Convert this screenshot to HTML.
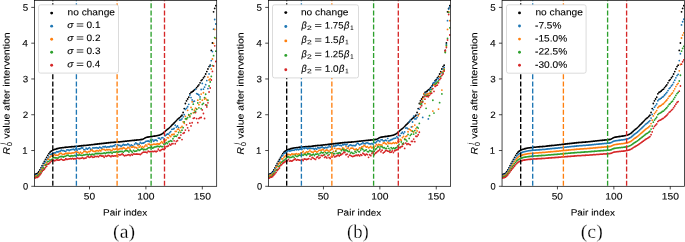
<!DOCTYPE html>
<html><head><meta charset="utf-8"><title>R0 after intervention</title>
<style>html,body{margin:0;padding:0;background:#fff;width:685px;height:242px;overflow:hidden}
svg{display:block;will-change:transform;font-family:"Liberation Sans",sans-serif}</style></head>
<body>
<svg width="685" height="242" viewBox="0 0 685 242">
<clipPath id="c0"><rect x="34.4" y="0.35" width="182.3" height="185.95"/></clipPath>
<g clip-path="url(#c0)">
<g stroke-linecap="round" fill="none" stroke-width="1.8">
<path stroke="#000" d="M34.23 174.56h0M35.36 174.23h0M36.48 173.9h0M37.61 173.09h0M38.74 171.76h0M39.87 169.98h0M41 167.8h0M42.12 165.63h0M43.25 163.39h0M44.38 161.33h0M45.51 159.42h0M46.64 157.32h0M47.76 155.31h0M48.89 153.6h0M50.02 152.23h0M51.15 151.19h0M52.28 150.54h0M53.4 149.95h0M54.53 149.47h0M55.66 149.04h0M56.79 148.76h0M57.92 148.48h0M59.04 148.21h0M60.17 147.97h0M61.3 147.82h0M62.43 147.68h0M63.56 147.53h0M64.68 147.39h0M65.81 147.26h0M66.94 147.16h0M68.07 147.06h0M69.2 146.96h0M70.32 146.86h0M71.45 146.77h0M72.58 146.67h0M73.71 146.57h0M74.84 146.48h0M75.96 146.38h0M77.09 146.28h0M78.22 146.13h0M79.35 145.99h0M80.48 145.86h0M81.6 145.75h0M82.73 145.63h0M83.86 145.52h0M84.99 145.4h0M86.12 145.29h0M87.24 145.17h0M88.37 145.06h0M89.5 144.94h0M90.63 144.81h0M91.76 144.68h0M92.88 144.54h0M94.01 144.41h0M95.14 144.27h0M96.27 144.14h0M97.4 144h0M98.52 143.87h0M99.65 143.73h0M100.78 143.6h0M101.91 143.48h0M103.04 143.35h0M104.16 143.23h0M105.29 143.11h0M106.42 142.98h0M107.55 142.86h0M108.68 142.73h0M109.8 142.61h0M110.93 142.52h0M112.06 142.43h0M113.19 142.34h0M114.32 142.25h0M115.44 142.16h0M116.57 142.07h0M117.7 141.98h0M118.83 141.89h0M119.96 141.79h0M121.08 141.67h0M122.21 141.55h0M123.34 141.42h0M124.47 141.3h0M125.6 141.17h0M126.72 141.05h0M127.85 140.93h0M128.98 140.8h0M130.11 140.68h0M131.24 140.57h0M132.36 140.45h0M133.49 140.34h0M134.62 140.23h0M135.75 140.12h0M136.88 140h0M138 139.89h0M139.13 139.78h0M140.26 139.65h0M141.39 139.5h0M142.52 139.35h0M143.64 138.82h0M144.77 138.08h0M145.9 137.53h0M147.03 137.2h0M148.16 137.02h0M149.28 136.83h0M150.41 136.66h0M151.54 136.49h0M152.67 136.33h0M153.8 136.17h0M154.92 136.01h0M156.05 135.85h0M157.18 135.6h0M158.31 135.32h0M159.44 135.04h0M160.56 134.71h0M161.69 134.08h0M162.82 133.46h0M163.95 132.48h0M165.08 131.39h0M166.2 130.32h0M167.33 129.46h0M168.46 128.59h0M169.59 127.59h0M170.72 126.41h0M171.84 125.26h0M172.97 124.13h0M174.1 122.99h0M175.23 121.82h0M176.36 120.65h0M177.48 119.45h0M178.61 118.44h0M179.74 117.59h0M180.87 116.47h0M182 115.26h0M183.12 112.5h0M184.25 108.6h0M185.38 103.5h0M186.51 100.8h0M187.64 99h0M188.76 97.2h0M189.89 93.8h0M191.02 92.4h0M192.15 91.8h0M193.28 91h0M194.4 89.8h0M195.53 89.2h0M196.66 87.6h0M197.79 86.2h0M198.92 84.8h0M200.04 82.8h0M201.17 80.6h0M202.3 79.6h0M203.43 77.8h0M204.56 76.4h0M205.68 74h0M206.81 71.6h0M207.94 69h0M209.07 66.6h0M210.2 65.2h0M211.32 50.4h0M212.45 43h0M213.58 11.8h0M214.71 8.4h0M215.84 5.7h0"/>
<path stroke="#1f77b4" d="M34.23 175.14h0M35.36 175.62h0M36.48 175h0M37.61 174.41h0M38.74 173.61h0M39.87 171.08h0M41 169.32h0M42.12 167.25h0M43.25 165.66h0M44.38 163.14h0M45.51 161.95h0M46.64 159.75h0M47.76 158.67h0M48.89 156.95h0M50.02 154.33h0M51.15 154.39h0M52.28 153.38h0M53.4 153.2h0M54.53 152.99h0M55.66 152.73h0M56.79 151.7h0M57.92 152h0M59.04 151.51h0M60.17 151.15h0M61.3 150.25h0M62.43 150.62h0M63.56 150.71h0M64.68 151.15h0M65.81 151.34h0M66.94 149.9h0M68.07 149.82h0M69.2 150.49h0M70.32 149.93h0M71.45 149.58h0M72.58 149.45h0M73.71 149.24h0M74.84 150.02h0M75.96 148.69h0M77.09 150.32h0M78.22 148.93h0M79.35 148.98h0M80.48 148.7h0M81.6 147.96h0M82.73 148.01h0M83.86 149.6h0M84.99 149.78h0M86.12 148.17h0M87.24 149.17h0M88.37 148.33h0M89.5 147.63h0M90.63 149.16h0M91.76 149.49h0M92.88 147.84h0M94.01 147.78h0M95.14 147.8h0M96.27 147.53h0M97.4 147.94h0M98.52 148.19h0M99.65 147.22h0M100.78 147.68h0M101.91 148.16h0M103.04 146.55h0M104.16 146.92h0M105.29 146.5h0M106.42 147.36h0M107.55 146.86h0M108.68 146.84h0M109.8 146.74h0M110.93 146.05h0M112.06 146.68h0M113.19 145.87h0M114.32 145.77h0M115.44 144.59h0M116.57 146.6h0M117.7 144.85h0M118.83 145.46h0M119.96 145.45h0M121.08 146.42h0M122.21 145.46h0M123.34 144.51h0M124.47 144.98h0M125.6 144.85h0M126.72 144.97h0M127.85 143.83h0M128.98 144.67h0M130.11 146.1h0M131.24 144.94h0M132.36 145.56h0M133.49 146.33h0M134.62 144.24h0M135.75 142.83h0M136.88 143.74h0M138 144.43h0M139.13 144.21h0M140.26 142.51h0M141.39 143.29h0M142.52 143.2h0M143.64 142.98h0M144.77 142.31h0M145.9 141.28h0M147.03 141.09h0M148.16 140.98h0M149.28 141.56h0M150.41 140.19h0M151.54 141.04h0M152.67 139.69h0M153.8 141.27h0M154.92 140.19h0M156.05 139.98h0M157.18 140.78h0M158.31 138.04h0M159.44 138.06h0M160.56 139.37h0M161.69 137.84h0M162.82 137.58h0M163.95 139.16h0M165.08 135.84h0M166.2 134.93h0M167.33 134.01h0M168.46 134.16h0M169.59 132.68h0M170.72 131.56h0M171.84 129.3h0M172.97 129.2h0M174.1 128.51h0M175.23 125.19h0M176.36 127.04h0M177.48 125.99h0M178.61 127.53h0M179.74 120.19h0M180.87 119.94h0M182 118.86h0M183.12 116.87h0M184.25 114.67h0M185.38 109.41h0M186.51 108.29h0M187.64 106.75h0M188.76 104.37h0M189.89 95.08h0M191.02 97.57h0M192.15 99.9h0M193.28 101.62h0M194.4 101.17h0M195.53 89.28h0M196.66 93.57h0M197.79 94.17h0M198.92 94.99h0M200.04 96.9h0M201.17 89.48h0M202.3 83.42h0M203.43 89.13h0M204.56 87.04h0M205.68 84.69h0M206.81 80.54h0M207.94 88.54h0M209.07 73.9h0M210.2 66h0M211.32 60.7h0M212.45 51.6h0M213.58 29.2h0M214.71 19.5h0M215.84 24h0"/>
<path stroke="#ff7f0e" d="M34.23 176.55h0M35.36 176.07h0M36.48 175.87h0M37.61 175.48h0M38.74 173.96h0M39.87 171.89h0M41 170.79h0M42.12 168.93h0M43.25 167.49h0M44.38 165.11h0M45.51 164.34h0M46.64 162.5h0M47.76 159.36h0M48.89 159.2h0M50.02 157.07h0M51.15 155.97h0M52.28 156.09h0M53.4 155.59h0M54.53 154.45h0M55.66 155.31h0M56.79 155.19h0M57.92 155.37h0M59.04 154.25h0M60.17 153.23h0M61.3 153.32h0M62.43 154.43h0M63.56 154.31h0M64.68 153.98h0M65.81 153.26h0M66.94 153.52h0M68.07 153.23h0M69.2 153.17h0M70.32 153.37h0M71.45 153.04h0M72.58 152.81h0M73.71 152.84h0M74.84 152.44h0M75.96 151.56h0M77.09 152.21h0M78.22 152.45h0M79.35 153.29h0M80.48 152.06h0M81.6 153.32h0M82.73 152.82h0M83.86 151.43h0M84.99 151.36h0M86.12 151.85h0M87.24 152.61h0M88.37 151.65h0M89.5 151.69h0M90.63 150.84h0M91.76 149.89h0M92.88 151.01h0M94.01 151.42h0M95.14 151.5h0M96.27 150.76h0M97.4 150.66h0M98.52 151.08h0M99.65 150.24h0M100.78 150.94h0M101.91 149.59h0M103.04 149.45h0M104.16 149.43h0M105.29 150.3h0M106.42 149.61h0M107.55 149.75h0M108.68 149.68h0M109.8 149.63h0M110.93 150.28h0M112.06 150.33h0M113.19 148.9h0M114.32 149.42h0M115.44 149.14h0M116.57 148.32h0M117.7 149.9h0M118.83 149.24h0M119.96 148.67h0M121.08 148.5h0M122.21 148.75h0M123.34 147.74h0M124.47 148.17h0M125.6 149.07h0M126.72 148.76h0M127.85 147.52h0M128.98 147.75h0M130.11 149.18h0M131.24 146.98h0M132.36 147.2h0M133.49 146.56h0M134.62 147.58h0M135.75 147.46h0M136.88 147.99h0M138 145.38h0M139.13 147.14h0M140.26 145.79h0M141.39 147.34h0M142.52 146.64h0M143.64 147.62h0M144.77 146.19h0M145.9 144.83h0M147.03 146.06h0M148.16 144.08h0M149.28 144.23h0M150.41 145.06h0M151.54 144.61h0M152.67 144.61h0M153.8 144.07h0M154.92 144.25h0M156.05 144.36h0M157.18 143.76h0M158.31 143.99h0M159.44 144.02h0M160.56 142.9h0M161.69 141.71h0M162.82 143.01h0M163.95 141h0M165.08 140.67h0M166.2 139.86h0M167.33 137.66h0M168.46 137.96h0M169.59 135.58h0M170.72 136.55h0M171.84 134.74h0M172.97 134.48h0M174.1 134.15h0M175.23 131.46h0M176.36 131.29h0M177.48 129.3h0M178.61 129.19h0M179.74 130.67h0M180.87 127.56h0M182 126.29h0M183.12 121.84h0M184.25 123.25h0M185.38 116.46h0M186.51 119.43h0M187.64 110.29h0M188.76 115.24h0M189.89 115.73h0M191.02 107.4h0M192.15 101.86h0M193.28 112.86h0M194.4 110.22h0M195.53 108.15h0M196.66 108.9h0M197.79 100.2h0M198.92 104.7h0M200.04 102.28h0M201.17 94.09h0M202.3 100.17h0M203.43 92.76h0M204.56 99.08h0M205.68 98.34h0M206.81 99.9h0M207.94 77.06h0M209.07 80h0M210.2 78.8h0M211.32 68.9h0M212.45 59h0M213.58 43.3h0M214.71 29.4h0M215.84 38.3h0"/>
<path stroke="#2ca02c" d="M34.23 177.55h0M35.36 177.18h0M36.48 177.03h0M37.61 175.91h0M38.74 174.86h0M39.87 173.99h0M41 172.45h0M42.12 170.39h0M43.25 167.92h0M44.38 168.34h0M45.51 165.18h0M46.64 164.41h0M47.76 161.68h0M48.89 161.46h0M50.02 160.04h0M51.15 159.82h0M52.28 159.11h0M53.4 157.67h0M54.53 157.57h0M55.66 157.91h0M56.79 157.83h0M57.92 158.13h0M59.04 157.05h0M60.17 156.66h0M61.3 156.51h0M62.43 156.57h0M63.56 157.02h0M64.68 156.37h0M65.81 156.1h0M66.94 155.39h0M68.07 155.04h0M69.2 156.07h0M70.32 156.27h0M71.45 155.74h0M72.58 155.94h0M73.71 155.89h0M74.84 155.47h0M75.96 155.89h0M77.09 154.95h0M78.22 155.26h0M79.35 154.93h0M80.48 155.12h0M81.6 155.33h0M82.73 155.28h0M83.86 154.83h0M84.99 154.86h0M86.12 154.42h0M87.24 154.41h0M88.37 154.98h0M89.5 154.07h0M90.63 154.78h0M91.76 154.4h0M92.88 154.13h0M94.01 154.95h0M95.14 153.61h0M96.27 153.51h0M97.4 153.52h0M98.52 153.52h0M99.65 153.42h0M100.78 153.7h0M101.91 153.33h0M103.04 153.34h0M104.16 152.97h0M105.29 153.62h0M106.42 152.73h0M107.55 152.54h0M108.68 152.49h0M109.8 152.64h0M110.93 152.12h0M112.06 153.36h0M113.19 152.11h0M114.32 152.14h0M115.44 152.1h0M116.57 151.75h0M117.7 152.2h0M118.83 151.92h0M119.96 151.43h0M121.08 151.52h0M122.21 151.43h0M123.34 152.36h0M124.47 151.05h0M125.6 150.66h0M126.72 150.63h0M127.85 150.99h0M128.98 152.07h0M130.11 150.47h0M131.24 151.06h0M132.36 152.25h0M133.49 150.36h0M134.62 151.37h0M135.75 151.2h0M136.88 150.78h0M138 149.45h0M139.13 150.42h0M140.26 149.86h0M141.39 149.01h0M142.52 148.95h0M143.64 149.76h0M144.77 149.34h0M145.9 149.62h0M147.03 148.94h0M148.16 147.91h0M149.28 147.59h0M150.41 147.63h0M151.54 146.99h0M152.67 148.18h0M153.8 147.48h0M154.92 146.8h0M156.05 146.8h0M157.18 146.27h0M158.31 146.45h0M159.44 146.77h0M160.56 146.12h0M161.69 146.61h0M162.82 146.58h0M163.95 144.24h0M165.08 143.92h0M166.2 142.66h0M167.33 143.49h0M168.46 141.74h0M169.59 141.29h0M170.72 140.63h0M171.84 141.27h0M172.97 138.77h0M174.1 136.49h0M175.23 136.14h0M176.36 136.34h0M177.48 134.83h0M178.61 132.49h0M179.74 138.1h0M180.87 132.34h0M182 130.13h0M183.12 127.66h0M184.25 121.9h0M185.38 118.85h0M186.51 118.76h0M187.64 117.53h0M188.76 114.65h0M189.89 116.79h0M191.02 113.69h0M192.15 109.47h0M193.28 104.13h0M194.4 112.4h0M195.53 111.48h0M196.66 109.35h0M197.79 102.88h0M198.92 107.8h0M200.04 99.04h0M201.17 108.76h0M202.3 104.44h0M203.43 103.33h0M204.56 97.58h0M205.68 94.24h0M206.81 105.22h0M207.94 100.26h0M209.07 86h0M210.2 82h0M211.32 76.4h0M212.45 65.6h0M213.58 55.7h0M214.71 37.7h0M215.84 51.2h0"/>
<path stroke="#d62728" d="M34.23 177.89h0M35.36 177.92h0M36.48 177.43h0M37.61 177.32h0M38.74 176.42h0M39.87 174.88h0M41 173.61h0M42.12 171.6h0M43.25 170.2h0M44.38 169.29h0M45.51 167.49h0M46.64 166.21h0M47.76 164.19h0M48.89 163.76h0M50.02 162.71h0M51.15 161.32h0M52.28 160.45h0M53.4 160.25h0M54.53 160.75h0M55.66 160.45h0M56.79 159.59h0M57.92 160.14h0M59.04 160.22h0M60.17 159.53h0M61.3 159.22h0M62.43 159.86h0M63.56 160.17h0M64.68 159.97h0M65.81 158.77h0M66.94 159.41h0M68.07 159.08h0M69.2 158.91h0M70.32 158.61h0M71.45 158.9h0M72.58 158.43h0M73.71 158.98h0M74.84 158.67h0M75.96 158.91h0M77.09 157.82h0M78.22 158.31h0M79.35 158.52h0M80.48 158.3h0M81.6 158.16h0M82.73 157.56h0M83.86 158.61h0M84.99 158.22h0M86.12 157.89h0M87.24 156.34h0M88.37 156.96h0M89.5 157.36h0M90.63 156.9h0M91.76 156.25h0M92.88 157.3h0M94.01 157.21h0M95.14 156.3h0M96.27 156.6h0M97.4 156.36h0M98.52 156.82h0M99.65 155.53h0M100.78 155.57h0M101.91 156.18h0M103.04 155.98h0M104.16 157.37h0M105.29 155.92h0M106.42 156.28h0M107.55 155.75h0M108.68 155.43h0M109.8 155.94h0M110.93 156.68h0M112.06 155.58h0M113.19 156.13h0M114.32 155.83h0M115.44 155.96h0M116.57 155.56h0M117.7 156.46h0M118.83 154.56h0M119.96 155.1h0M121.08 154.62h0M122.21 153.95h0M123.34 154.91h0M124.47 155.8h0M125.6 155.3h0M126.72 155.37h0M127.85 154.9h0M128.98 154.59h0M130.11 155.62h0M131.24 154.29h0M132.36 155.08h0M133.49 153.97h0M134.62 154.09h0M135.75 154.15h0M136.88 154h0M138 154.11h0M139.13 154.12h0M140.26 154.56h0M141.39 153.7h0M142.52 152.53h0M143.64 152.21h0M144.77 152.12h0M145.9 152.13h0M147.03 152.64h0M148.16 151.13h0M149.28 151.7h0M150.41 151.58h0M151.54 151.65h0M152.67 151.46h0M153.8 151.56h0M154.92 151.21h0M156.05 151.73h0M157.18 151.12h0M158.31 149.27h0M159.44 150.55h0M160.56 150.48h0M161.69 149.6h0M162.82 149.05h0M163.95 149.5h0M165.08 148.23h0M166.2 146.59h0M167.33 146.42h0M168.46 145.83h0M169.59 144.26h0M170.72 145.03h0M171.84 143.85h0M172.97 143.66h0M174.1 140.84h0M175.23 143.75h0M176.36 141.39h0M177.48 140.64h0M178.61 137.97h0M179.74 137.56h0M180.87 135.11h0M182 139.59h0M183.12 133.34h0M184.25 132.73h0M185.38 130.03h0M186.51 124.86h0M187.64 127.87h0M188.76 130.5h0M189.89 123.14h0M191.02 125.97h0M192.15 122.75h0M193.28 118.3h0M194.4 117.93h0M195.53 112.59h0M196.66 118.56h0M197.79 122.63h0M198.92 118.53h0M200.04 117.54h0M201.17 117.52h0M202.3 109.93h0M203.43 113.5h0M204.56 118.48h0M205.68 104.94h0M206.81 106.9h0M207.94 102.87h0M209.07 92h0M210.2 88h0M211.32 80h0M212.45 71.4h0M213.58 66h0M214.71 45.8h0M215.84 61.5h0"/>
</g>
<line x1="52.8" y1="186.3" x2="52.8" y2="0.35" stroke="#000" stroke-width="1.34" stroke-dasharray="5 2.1" stroke-dashoffset="6.6"/>
<line x1="76.4" y1="186.3" x2="76.4" y2="0.35" stroke="#1f77b4" stroke-width="1.34" stroke-dasharray="5 2.1" stroke-dashoffset="6.6"/>
<line x1="117.1" y1="186.3" x2="117.1" y2="0.35" stroke="#ff7f0e" stroke-width="1.34" stroke-dasharray="5 2.1" stroke-dashoffset="6.6"/>
<line x1="151.1" y1="186.3" x2="151.1" y2="0.35" stroke="#2ca02c" stroke-width="1.34" stroke-dasharray="5 2.1" stroke-dashoffset="6.6"/>
<line x1="164.5" y1="186.3" x2="164.5" y2="0.35" stroke="#d62728" stroke-width="1.34" stroke-dasharray="5 2.1" stroke-dashoffset="6.6"/>
</g>
<rect x="34.4" y="0.35" width="182.3" height="185.95" fill="none" stroke="#000" stroke-width="0.71"/>
<path d="M31.27 186.3H34.4M31.27 150.52H34.4M31.27 114.74H34.4M31.27 78.96H34.4M31.27 43.18H34.4M31.27 7.4H34.4M89.5 186.3V189.43M145.9 186.3V189.43M202.3 186.3V189.43" stroke="#000" stroke-width="0.71" fill="none"/>
<rect x="38.55" y="4.8" width="79.95" height="68.3" rx="2" fill="#fff" stroke="#ccc" stroke-width="0.71"/>
<g stroke-linecap="round" stroke-width="2.9"><path stroke="#000" d="M51.65 13.1h0"/><path stroke="#1f77b4" d="M51.65 26.15h0"/><path stroke="#ff7f0e" d="M51.65 39.2h0"/><path stroke="#2ca02c" d="M51.65 52.25h0"/><path stroke="#d62728" d="M51.65 65.3h0"/></g>
<clipPath id="c1"><rect x="268.35" y="0.35" width="182.3" height="185.95"/></clipPath>
<g clip-path="url(#c1)">
<g stroke-linecap="round" fill="none" stroke-width="1.8">
<path stroke="#000" d="M268.18 174.56h0M269.31 174.23h0M270.43 173.9h0M271.56 173.09h0M272.69 171.76h0M273.82 169.98h0M274.95 167.8h0M276.07 165.63h0M277.2 163.39h0M278.33 161.33h0M279.46 159.42h0M280.59 157.32h0M281.71 155.31h0M282.84 153.6h0M283.97 152.23h0M285.1 151.19h0M286.23 150.54h0M287.35 149.95h0M288.48 149.47h0M289.61 149.04h0M290.74 148.76h0M291.87 148.48h0M292.99 148.21h0M294.12 147.97h0M295.25 147.82h0M296.38 147.68h0M297.51 147.53h0M298.63 147.39h0M299.76 147.26h0M300.89 147.16h0M302.02 147.06h0M303.15 146.96h0M304.27 146.86h0M305.4 146.77h0M306.53 146.67h0M307.66 146.57h0M308.79 146.48h0M309.91 146.38h0M311.04 146.28h0M312.17 146.13h0M313.3 145.99h0M314.43 145.86h0M315.55 145.75h0M316.68 145.63h0M317.81 145.52h0M318.94 145.4h0M320.07 145.29h0M321.19 145.17h0M322.32 145.06h0M323.45 144.94h0M324.58 144.81h0M325.71 144.68h0M326.83 144.54h0M327.96 144.41h0M329.09 144.27h0M330.22 144.14h0M331.35 144h0M332.47 143.87h0M333.6 143.73h0M334.73 143.6h0M335.86 143.48h0M336.99 143.35h0M338.11 143.23h0M339.24 143.11h0M340.37 142.98h0M341.5 142.86h0M342.63 142.73h0M343.75 142.61h0M344.88 142.52h0M346.01 142.43h0M347.14 142.34h0M348.27 142.25h0M349.39 142.16h0M350.52 142.07h0M351.65 141.98h0M352.78 141.89h0M353.91 141.79h0M355.03 141.67h0M356.16 141.55h0M357.29 141.42h0M358.42 141.3h0M359.55 141.17h0M360.67 141.05h0M361.8 140.93h0M362.93 140.8h0M364.06 140.68h0M365.19 140.57h0M366.31 140.45h0M367.44 140.34h0M368.57 140.23h0M369.7 140.12h0M370.83 140h0M371.95 139.89h0M373.08 139.78h0M374.21 139.65h0M375.34 139.5h0M376.47 139.35h0M377.59 138.82h0M378.72 138.08h0M379.85 137.53h0M380.98 137.2h0M382.11 137.02h0M383.23 136.83h0M384.36 136.66h0M385.49 136.49h0M386.62 136.33h0M387.75 136.17h0M388.87 136.01h0M390 135.85h0M391.13 135.6h0M392.26 135.32h0M393.39 135.04h0M394.51 134.71h0M395.64 134.08h0M396.77 133.46h0M397.9 132.48h0M399.03 131.39h0M400.15 130.32h0M401.28 129.46h0M402.41 128.59h0M403.54 127.59h0M404.67 126.41h0M405.79 125.26h0M406.92 124.13h0M408.05 122.99h0M409.18 121.82h0M410.31 120.65h0M411.43 119.45h0M412.56 118.44h0M413.69 117.59h0M414.82 116.47h0M415.95 115.26h0M417.07 112.5h0M418.2 108.6h0M419.33 103.5h0M420.46 100.8h0M421.59 99h0M422.71 97.2h0M423.84 93.8h0M424.97 92.4h0M426.1 91.8h0M427.23 91h0M428.35 89.8h0M429.48 89.2h0M430.61 87.6h0M431.74 86.2h0M432.87 84.8h0M433.99 82.8h0M435.12 80.6h0M436.25 79.6h0M437.38 77.8h0M438.51 76.4h0M439.63 74h0M440.76 71.6h0M441.89 69h0M443.02 66.6h0M444.15 65.2h0M445.27 50.4h0M446.4 43h0M447.53 11.8h0M448.66 8.4h0M449.79 5.7h0"/>
<path stroke="#1f77b4" d="M268.18 175.86h0M269.31 174.74h0M270.43 174.89h0M271.56 173.53h0M272.69 172.62h0M273.82 171.19h0M274.95 168.61h0M276.07 167.24h0M277.2 165.19h0M278.33 163.63h0M279.46 160.88h0M280.59 158.52h0M281.71 156.21h0M282.84 155.34h0M283.97 153.53h0M285.1 152.98h0M286.23 152.39h0M287.35 151.34h0M288.48 150.68h0M289.61 151.01h0M290.74 150.85h0M291.87 150.45h0M292.99 150.09h0M294.12 150.33h0M295.25 149.24h0M296.38 149.82h0M297.51 149.25h0M298.63 149.79h0M299.76 149.1h0M300.89 149h0M302.02 149.32h0M303.15 147.82h0M304.27 148.52h0M305.4 147.73h0M306.53 148.17h0M307.66 148.87h0M308.79 148.46h0M309.91 148.01h0M311.04 148.44h0M312.17 148.42h0M313.3 148.52h0M314.43 149.23h0M315.55 148.35h0M316.68 149.21h0M317.81 147.63h0M318.94 147.99h0M320.07 147.86h0M321.19 147.25h0M322.32 146.91h0M323.45 147.89h0M324.58 147.99h0M325.71 147.45h0M326.83 147.86h0M327.96 147.25h0M329.09 145.69h0M330.22 146.92h0M331.35 145.83h0M332.47 146.92h0M333.6 145.9h0M334.73 146.07h0M335.86 145.77h0M336.99 145.27h0M338.11 144.53h0M339.24 145.32h0M340.37 145.39h0M341.5 145.81h0M342.63 144.61h0M343.75 144.79h0M344.88 144.22h0M346.01 145h0M347.14 144.07h0M348.27 146.35h0M349.39 145.41h0M350.52 144.79h0M351.65 145.39h0M352.78 145.65h0M353.91 145.34h0M355.03 145.83h0M356.16 144.73h0M357.29 143.18h0M358.42 143.77h0M359.55 144.86h0M360.67 144.33h0M361.8 143.67h0M362.93 142.62h0M364.06 143.69h0M365.19 143.73h0M366.31 142.79h0M367.44 142.9h0M368.57 143.51h0M369.7 143.83h0M370.83 143.91h0M371.95 143.36h0M373.08 144.25h0M374.21 142.37h0M375.34 142.88h0M376.47 141.85h0M377.59 140.63h0M378.72 140.48h0M379.85 141.62h0M380.98 139.92h0M382.11 139.67h0M383.23 140.8h0M384.36 140.87h0M385.49 140.11h0M386.62 140.72h0M387.75 138.4h0M388.87 141.01h0M390 140.43h0M391.13 139.74h0M392.26 139.38h0M393.39 138.7h0M394.51 138.35h0M395.64 138.05h0M396.77 136.56h0M397.9 137.96h0M399.03 135.52h0M400.15 135.69h0M401.28 133.37h0M402.41 132.27h0M403.54 133.6h0M404.67 131.97h0M405.79 128.04h0M406.92 127.8h0M408.05 128.84h0M409.18 122.09h0M410.31 120.16h0M411.43 126.89h0M412.56 121.99h0M413.69 116.16h0M414.82 118.9h0M415.95 118.96h0M417.07 117.39h0M418.2 114.68h0M419.33 109.07h0M420.46 102.83h0M421.59 102.41h0M422.71 117.46h0M423.84 94.01h0M424.97 93.08h0M426.1 94.73h0M427.23 93.3h0M428.35 118.97h0M429.48 90.29h0M430.61 89.08h0M431.74 86.43h0M432.87 83.34h0M433.99 82.74h0M435.12 82.01h0M436.25 80.75h0M437.38 78.62h0M438.51 78.86h0M439.63 77.11h0M440.76 73.25h0M441.89 72.09h0M443.02 69h0M444.15 67.5h0M445.27 51.5h0M446.4 44.3h0M447.53 20.7h0M448.66 9.1h0M449.79 7h0"/>
<path stroke="#ff7f0e" d="M268.18 176.59h0M269.31 175.59h0M270.43 175.17h0M271.56 174.97h0M272.69 173.86h0M273.82 172.83h0M274.95 170.04h0M276.07 167.44h0M277.2 166.4h0M278.33 164.26h0M279.46 162.95h0M280.59 162.07h0M281.71 158.87h0M282.84 158.85h0M283.97 157.22h0M285.1 156.03h0M286.23 155.12h0M287.35 154.66h0M288.48 154.33h0M289.61 154.71h0M290.74 155h0M291.87 153.87h0M292.99 154.14h0M294.12 154.27h0M295.25 154.18h0M296.38 153.59h0M297.51 154.32h0M298.63 153.93h0M299.76 154.08h0M300.89 152.94h0M302.02 152.72h0M303.15 151.52h0M304.27 153.48h0M305.4 152.99h0M306.53 151.83h0M307.66 152.08h0M308.79 151.53h0M309.91 150.06h0M311.04 151.59h0M312.17 152.2h0M313.3 152.29h0M314.43 151.18h0M315.55 151.21h0M316.68 152.04h0M317.81 151.61h0M318.94 150.35h0M320.07 150.14h0M321.19 150.39h0M322.32 149.5h0M323.45 149.76h0M324.58 151.42h0M325.71 150.39h0M326.83 149.87h0M327.96 150.61h0M329.09 151.57h0M330.22 150.14h0M331.35 149.41h0M332.47 148.92h0M333.6 151.41h0M334.73 148.13h0M335.86 150.42h0M336.99 148.87h0M338.11 148.62h0M339.24 148.65h0M340.37 149.23h0M341.5 149.74h0M342.63 147.96h0M343.75 148.38h0M344.88 149.73h0M346.01 146.61h0M347.14 148.35h0M348.27 147.89h0M349.39 149.78h0M350.52 148.29h0M351.65 148.07h0M352.78 148.1h0M353.91 149.15h0M355.03 149.78h0M356.16 148.81h0M357.29 149.97h0M358.42 149.45h0M359.55 147.92h0M360.67 148.1h0M361.8 146.93h0M362.93 146.66h0M364.06 145.31h0M365.19 146.11h0M366.31 147.19h0M367.44 146.54h0M368.57 147.85h0M369.7 147.46h0M370.83 146.44h0M371.95 147.89h0M373.08 147.15h0M374.21 147.74h0M375.34 146.17h0M376.47 144.45h0M377.59 145.77h0M378.72 144.4h0M379.85 144.92h0M380.98 144.81h0M382.11 145.09h0M383.23 143.18h0M384.36 142.53h0M385.49 143.69h0M386.62 144.05h0M387.75 142.47h0M388.87 143.5h0M390 143.21h0M391.13 143.62h0M392.26 143.35h0M393.39 142.66h0M394.51 143.37h0M395.64 142.68h0M396.77 143.26h0M397.9 141.49h0M399.03 141.51h0M400.15 139.51h0M401.28 140.21h0M402.41 137.57h0M403.54 136.3h0M404.67 138.56h0M405.79 136.54h0M406.92 135.8h0M408.05 131.75h0M409.18 129.19h0M410.31 129.78h0M411.43 130.92h0M412.56 126.59h0M413.69 131.98h0M414.82 125.11h0M415.95 128.63h0M417.07 130.95h0M418.2 115.87h0M419.33 113.81h0M420.46 103.08h0M421.59 101.72h0M422.71 98.77h0M423.84 93.63h0M424.97 103.55h0M426.1 94.67h0M427.23 94.06h0M428.35 93.69h0M429.48 93.17h0M430.61 91.75h0M431.74 89.68h0M432.87 111.07h0M433.99 84.98h0M435.12 84.28h0M436.25 83.05h0M437.38 82.64h0M438.51 109.12h0M439.63 76.69h0M440.76 72.58h0M441.89 90.03h0M443.02 71.5h0M444.15 69h0M445.27 52h0M446.4 46.2h0M447.53 29.4h0M448.66 11.6h0M449.79 20.7h0"/>
<path stroke="#2ca02c" d="M268.18 176.94h0M269.31 177.22h0M270.43 176.99h0M271.56 176.3h0M272.69 174.98h0M273.82 173.57h0M274.95 171.93h0M276.07 170.14h0M277.2 169.41h0M278.33 166.54h0M279.46 165.98h0M280.59 163.94h0M281.71 162.26h0M282.84 161.23h0M283.97 160.36h0M285.1 159.3h0M286.23 158.15h0M287.35 157.05h0M288.48 156.75h0M289.61 157.52h0M290.74 157.44h0M291.87 157.16h0M292.99 156.1h0M294.12 157.52h0M295.25 155.29h0M296.38 156.31h0M297.51 156.43h0M298.63 155.6h0M299.76 155.11h0M300.89 155.54h0M302.02 154.97h0M303.15 155.32h0M304.27 154.38h0M305.4 154.39h0M306.53 155.24h0M307.66 153.73h0M308.79 153.95h0M309.91 153.95h0M311.04 155.2h0M312.17 154.93h0M313.3 154.17h0M314.43 155.52h0M315.55 154.13h0M316.68 154.03h0M317.81 153.82h0M318.94 155.2h0M320.07 153.37h0M321.19 152.03h0M322.32 152.94h0M323.45 152.65h0M324.58 154.76h0M325.71 152.55h0M326.83 153.53h0M327.96 152.6h0M329.09 154.57h0M330.22 152.53h0M331.35 153.2h0M332.47 152.57h0M333.6 153.93h0M334.73 153.63h0M335.86 151.31h0M336.99 153.37h0M338.11 153.19h0M339.24 152.69h0M340.37 153.15h0M341.5 150.71h0M342.63 149.06h0M343.75 149.98h0M344.88 151.03h0M346.01 149.87h0M347.14 150.76h0M348.27 151.56h0M349.39 151.47h0M350.52 153.11h0M351.65 152.42h0M352.78 153.33h0M353.91 153.35h0M355.03 151.44h0M356.16 152.44h0M357.29 150.04h0M358.42 151.58h0M359.55 151.83h0M360.67 150.04h0M361.8 148.51h0M362.93 149.38h0M364.06 151.06h0M365.19 150.33h0M366.31 149.78h0M367.44 151.57h0M368.57 151.74h0M369.7 150.32h0M370.83 150.87h0M371.95 151.73h0M373.08 151.07h0M374.21 151.14h0M375.34 149.51h0M376.47 148.72h0M377.59 147.18h0M378.72 146.6h0M379.85 148.12h0M380.98 146.42h0M382.11 146.8h0M383.23 147.74h0M384.36 147.56h0M385.49 148.67h0M386.62 148.37h0M387.75 146.2h0M388.87 148.37h0M390 150.25h0M391.13 147.67h0M392.26 148.81h0M393.39 147.95h0M394.51 148.64h0M395.64 148h0M396.77 147.38h0M397.9 145.95h0M399.03 144.52h0M400.15 147.19h0M401.28 141.97h0M402.41 144.02h0M403.54 143.23h0M404.67 139.45h0M405.79 139.67h0M406.92 141.09h0M408.05 134.42h0M409.18 138.38h0M410.31 135.41h0M411.43 134.22h0M412.56 131.23h0M413.69 134.08h0M414.82 130.53h0M415.95 132.95h0M417.07 127.18h0M418.2 128.12h0M419.33 123.39h0M420.46 104.28h0M421.59 103.94h0M422.71 101.14h0M423.84 96.78h0M424.97 95.46h0M426.1 108.28h0M427.23 95.63h0M428.35 95.4h0M429.48 115.66h0M430.61 91.67h0M431.74 89.35h0M432.87 100.26h0M433.99 113.04h0M435.12 84.28h0M436.25 83.48h0M437.38 82.03h0M438.51 80.82h0M439.63 102.66h0M440.76 76.45h0M441.89 93.92h0M443.02 73h0M444.15 70h0M445.27 52.5h0M446.4 45.5h0M447.53 38.3h0M448.66 12.4h0M449.79 27.8h0"/>
<path stroke="#d62728" d="M268.18 178.21h0M269.31 178.12h0M270.43 177.3h0M271.56 177.2h0M272.69 176.44h0M273.82 174.99h0M274.95 173.84h0M276.07 172.44h0M277.2 170.51h0M278.33 169.42h0M279.46 168.02h0M280.59 165.51h0M281.71 164.54h0M282.84 163.25h0M283.97 162.52h0M285.1 161.77h0M286.23 160.66h0M287.35 160.92h0M288.48 159.42h0M289.61 161.11h0M290.74 160.75h0M291.87 161.16h0M292.99 160.33h0M294.12 159.54h0M295.25 158.87h0M296.38 160.21h0M297.51 159.69h0M298.63 159.89h0M299.76 160.17h0M300.89 160.46h0M302.02 159.51h0M303.15 160.5h0M304.27 159.01h0M305.4 159.11h0M306.53 159.5h0M307.66 159.2h0M308.79 158.65h0M309.91 156.16h0M311.04 159.24h0M312.17 157.44h0M313.3 158.18h0M314.43 158.8h0M315.55 159.4h0M316.68 157.5h0M317.81 156.74h0M318.94 158.29h0M320.07 157.42h0M321.19 155.41h0M322.32 155.82h0M323.45 155.08h0M324.58 157.45h0M325.71 156.58h0M326.83 157.89h0M327.96 155.49h0M329.09 157.57h0M330.22 158.42h0M331.35 156.75h0M332.47 156.85h0M333.6 155.29h0M334.73 156.88h0M335.86 156.4h0M336.99 155.74h0M338.11 154.89h0M339.24 155.99h0M340.37 155.01h0M341.5 154.49h0M342.63 153.72h0M343.75 152.23h0M344.88 152.58h0M346.01 154.77h0M347.14 154.07h0M348.27 156.87h0M349.39 155.06h0M350.52 155.4h0M351.65 156.06h0M352.78 156.61h0M353.91 156.2h0M355.03 155.63h0M356.16 155.24h0M357.29 155.52h0M358.42 154.91h0M359.55 155.9h0M360.67 154.54h0M361.8 155.24h0M362.93 153.18h0M364.06 154.27h0M365.19 155.25h0M366.31 154.07h0M367.44 154.66h0M368.57 157.3h0M369.7 154.76h0M370.83 155.66h0M371.95 153.58h0M373.08 152.36h0M374.21 154.63h0M375.34 153.24h0M376.47 152.49h0M377.59 151.46h0M378.72 150.53h0M379.85 149.69h0M380.98 151.74h0M382.11 150.16h0M383.23 152.9h0M384.36 152.05h0M385.49 150.9h0M386.62 150.33h0M387.75 151.05h0M388.87 151.31h0M390 152.26h0M391.13 152.18h0M392.26 150.88h0M393.39 152.61h0M394.51 150.88h0M395.64 150.26h0M396.77 149.93h0M397.9 149.43h0M399.03 147.8h0M400.15 147.67h0M401.28 146.65h0M402.41 146.25h0M403.54 144.06h0M404.67 148.41h0M405.79 143.03h0M406.92 144.42h0M408.05 143.69h0M409.18 144.29h0M410.31 144.86h0M411.43 141.47h0M412.56 141.39h0M413.69 139.09h0M414.82 141.72h0M415.95 136.24h0M417.07 136.31h0M418.2 134.75h0M419.33 132.24h0M420.46 107.35h0M421.59 105.71h0M422.71 102.04h0M423.84 96.5h0M424.97 99.16h0M426.1 96.39h0M427.23 96.43h0M428.35 96.87h0M429.48 95.35h0M430.61 93.8h0M431.74 93.04h0M432.87 88.54h0M433.99 91.38h0M435.12 86.46h0M436.25 85.58h0M437.38 85.06h0M438.51 82.8h0M439.63 79.56h0M440.76 78.27h0M441.89 75.45h0M443.02 74h0M444.15 71h0M445.27 50.5h0M446.4 47.6h0M447.53 40h0M448.66 14.5h0M449.79 35h0"/>
</g>
<line x1="286.7" y1="186.3" x2="286.7" y2="0.35" stroke="#000" stroke-width="1.34" stroke-dasharray="5 2.1" stroke-dashoffset="6.6"/>
<line x1="301.4" y1="186.3" x2="301.4" y2="0.35" stroke="#1f77b4" stroke-width="1.34" stroke-dasharray="5 2.1" stroke-dashoffset="6.6"/>
<line x1="331.85" y1="186.3" x2="331.85" y2="0.35" stroke="#ff7f0e" stroke-width="1.34" stroke-dasharray="5 2.1" stroke-dashoffset="6.6"/>
<line x1="373.6" y1="186.3" x2="373.6" y2="0.35" stroke="#2ca02c" stroke-width="1.34" stroke-dasharray="5 2.1" stroke-dashoffset="6.6"/>
<line x1="398.3" y1="186.3" x2="398.3" y2="0.35" stroke="#d62728" stroke-width="1.34" stroke-dasharray="5 2.1" stroke-dashoffset="6.6"/>
</g>
<rect x="268.35" y="0.35" width="182.3" height="185.95" fill="none" stroke="#000" stroke-width="0.71"/>
<path d="M265.22 186.3H268.35M265.22 150.52H268.35M265.22 114.74H268.35M265.22 78.96H268.35M265.22 43.18H268.35M265.22 7.4H268.35M323.45 186.3V189.43M379.85 186.3V189.43M436.25 186.3V189.43" stroke="#000" stroke-width="0.71" fill="none"/>
<rect x="272.5" y="4.8" width="86" height="73.1" rx="2" fill="#fff" stroke="#ccc" stroke-width="0.71"/>
<g stroke-linecap="round" stroke-width="2.9"><path stroke="#000" d="M285.8 12.6h0"/><path stroke="#1f77b4" d="M285.8 26.5h0"/><path stroke="#ff7f0e" d="M285.8 40.9h0"/><path stroke="#2ca02c" d="M285.8 55.4h0"/><path stroke="#d62728" d="M285.8 69.8h0"/></g>
<clipPath id="c2"><rect x="502.05" y="0.35" width="182.3" height="185.95"/></clipPath>
<g clip-path="url(#c2)">
<g stroke-linecap="round" fill="none" stroke-width="1.8">
<path stroke="#000" d="M502.18 174.56h0M503.31 174.23h0M504.43 173.9h0M505.56 173.09h0M506.69 171.76h0M507.82 169.98h0M508.95 167.8h0M510.07 165.63h0M511.2 163.39h0M512.33 161.33h0M513.46 159.42h0M514.59 157.32h0M515.71 155.31h0M516.84 153.6h0M517.97 152.23h0M519.1 151.19h0M520.23 150.54h0M521.35 149.95h0M522.48 149.47h0M523.61 149.04h0M524.74 148.76h0M525.87 148.48h0M526.99 148.21h0M528.12 147.97h0M529.25 147.82h0M530.38 147.68h0M531.51 147.53h0M532.63 147.39h0M533.76 147.26h0M534.89 147.16h0M536.02 147.06h0M537.15 146.96h0M538.27 146.86h0M539.4 146.77h0M540.53 146.67h0M541.66 146.57h0M542.79 146.48h0M543.91 146.38h0M545.04 146.28h0M546.17 146.13h0M547.3 145.99h0M548.43 145.86h0M549.55 145.75h0M550.68 145.63h0M551.81 145.52h0M552.94 145.4h0M554.07 145.29h0M555.19 145.17h0M556.32 145.06h0M557.45 144.94h0M558.58 144.81h0M559.71 144.68h0M560.83 144.54h0M561.96 144.41h0M563.09 144.27h0M564.22 144.14h0M565.35 144h0M566.47 143.87h0M567.6 143.73h0M568.73 143.6h0M569.86 143.48h0M570.99 143.35h0M572.11 143.23h0M573.24 143.11h0M574.37 142.98h0M575.5 142.86h0M576.63 142.73h0M577.75 142.61h0M578.88 142.52h0M580.01 142.43h0M581.14 142.34h0M582.27 142.25h0M583.39 142.16h0M584.52 142.07h0M585.65 141.98h0M586.78 141.89h0M587.91 141.79h0M589.03 141.67h0M590.16 141.55h0M591.29 141.42h0M592.42 141.3h0M593.55 141.17h0M594.67 141.05h0M595.8 140.93h0M596.93 140.8h0M598.06 140.68h0M599.19 140.57h0M600.31 140.45h0M601.44 140.34h0M602.57 140.23h0M603.7 140.12h0M604.83 140h0M605.95 139.89h0M607.08 139.78h0M608.21 139.65h0M609.34 139.5h0M610.47 139.35h0M611.59 138.82h0M612.72 138.08h0M613.85 137.53h0M614.98 137.2h0M616.11 137.02h0M617.23 136.83h0M618.36 136.66h0M619.49 136.49h0M620.62 136.33h0M621.75 136.17h0M622.87 136.01h0M624 135.85h0M625.13 135.6h0M626.26 135.32h0M627.39 135.04h0M628.51 134.71h0M629.64 134.08h0M630.77 133.46h0M631.9 132.48h0M633.03 131.39h0M634.15 130.32h0M635.28 129.46h0M636.41 128.59h0M637.54 127.59h0M638.67 126.41h0M639.79 125.26h0M640.92 124.13h0M642.05 122.99h0M643.18 121.82h0M644.31 120.65h0M645.43 119.45h0M646.56 118.44h0M647.69 117.59h0M648.82 116.47h0M649.95 115.26h0M651.07 112.5h0M652.2 108.6h0M653.33 103.5h0M654.46 100.8h0M655.59 99h0M656.71 97.2h0M657.84 93.8h0M658.97 92.4h0M660.1 91.8h0M661.23 91h0M662.35 89.8h0M663.48 89.2h0M664.61 87.6h0M665.74 86.2h0M666.87 84.8h0M667.99 82.8h0M669.12 80.6h0M670.25 79.6h0M671.38 77.8h0M672.51 76.4h0M673.63 74h0M674.76 71.6h0M675.89 69h0M677.02 66.6h0M678.15 65.2h0M679.27 50.4h0M680.4 43h0M681.53 11.8h0M682.66 8.4h0M683.79 5.7h0"/>
<path stroke="#1f77b4" d="M502.18 175.44h0M503.31 175.13h0M504.43 174.83h0M505.56 174.08h0M506.69 172.85h0M507.82 171.2h0M508.95 169.19h0M510.07 167.18h0M511.2 165.11h0M512.33 163.2h0M513.46 161.44h0M514.59 159.5h0M515.71 157.63h0M516.84 156.05h0M517.97 154.78h0M519.1 153.82h0M520.23 153.22h0M521.35 152.68h0M522.48 152.23h0M523.61 151.83h0M524.74 151.58h0M525.87 151.32h0M526.99 151.07h0M528.12 150.84h0M529.25 150.71h0M530.38 150.57h0M531.51 150.44h0M532.63 150.31h0M533.76 150.19h0M534.89 150.1h0M536.02 150.01h0M537.15 149.91h0M538.27 149.82h0M539.4 149.73h0M540.53 149.64h0M541.66 149.55h0M542.79 149.46h0M543.91 149.37h0M545.04 149.28h0M546.17 149.15h0M547.3 149.02h0M548.43 148.89h0M549.55 148.79h0M550.68 148.68h0M551.81 148.58h0M552.94 148.47h0M554.07 148.36h0M555.19 148.26h0M556.32 148.15h0M557.45 148.04h0M558.58 147.92h0M559.71 147.8h0M560.83 147.67h0M561.96 147.55h0M563.09 147.42h0M564.22 147.3h0M565.35 147.17h0M566.47 147.05h0M567.6 146.92h0M568.73 146.81h0M569.86 146.69h0M570.99 146.58h0M572.11 146.46h0M573.24 146.35h0M574.37 146.23h0M575.5 146.12h0M576.63 146h0M577.75 145.89h0M578.88 145.8h0M580.01 145.72h0M581.14 145.63h0M582.27 145.55h0M583.39 145.47h0M584.52 145.38h0M585.65 145.3h0M586.78 145.22h0M587.91 145.13h0M589.03 145.02h0M590.16 144.9h0M591.29 144.79h0M592.42 144.67h0M593.55 144.56h0M594.67 144.44h0M595.8 144.33h0M596.93 144.21h0M598.06 144.1h0M599.19 144h0M600.31 143.89h0M601.44 143.79h0M602.57 143.68h0M603.7 143.58h0M604.83 143.47h0M605.95 143.37h0M607.08 143.27h0M608.21 143.15h0M609.34 143.01h0M610.47 142.87h0M611.59 142.38h0M612.72 141.7h0M613.85 141.19h0M614.98 140.88h0M616.11 140.71h0M617.23 140.54h0M618.36 140.38h0M619.49 140.23h0M620.62 140.08h0M621.75 139.93h0M622.87 139.78h0M624 139.63h0M625.13 139.41h0M626.26 139.15h0M627.39 138.89h0M628.51 138.58h0M629.64 138h0M630.77 137.42h0M631.9 136.52h0M633.03 135.51h0M634.15 134.52h0M635.28 133.72h0M636.41 132.92h0M637.54 131.99h0M638.67 130.9h0M639.79 129.83h0M640.92 128.79h0M642.05 127.74h0M643.18 126.65h0M644.31 125.57h0M645.43 124.46h0M646.56 123.53h0M647.69 122.75h0M648.82 121.7h0M649.95 120.58h0M651.07 118.03h0M652.2 114.43h0M653.33 109.71h0M654.46 107.21h0M655.59 105.55h0M656.71 103.88h0M657.84 100.74h0M658.97 99.44h0M660.1 98.89h0M661.23 98.15h0M662.35 97.04h0M663.48 96.48h0M664.61 95h0M665.74 93.71h0M666.87 92.41h0M667.99 90.56h0M669.12 88.53h0M670.25 87.6h0M671.38 85.94h0M672.51 84.64h0M673.63 82.42h0M674.76 80.2h0M675.89 77.8h0M677.02 75.58h0M678.15 74.28h0M679.27 60.59h0M680.4 53.75h0M681.53 24.89h0M682.66 21.74h0M683.79 19.24h0"/>
<path stroke="#ff7f0e" d="M502.18 176.32h0M503.31 176.04h0M504.43 175.76h0M505.56 175.07h0M506.69 173.94h0M507.82 172.43h0M508.95 170.58h0M510.07 168.73h0M511.2 166.83h0M512.33 165.07h0M513.46 163.45h0M514.59 161.67h0M515.71 159.96h0M516.84 158.5h0M517.97 157.34h0M519.1 156.45h0M520.23 155.91h0M521.35 155.4h0M522.48 154.99h0M523.61 154.63h0M524.74 154.39h0M525.87 154.16h0M526.99 153.92h0M528.12 153.72h0M529.25 153.59h0M530.38 153.47h0M531.51 153.35h0M532.63 153.23h0M533.76 153.12h0M534.89 153.03h0M536.02 152.95h0M537.15 152.86h0M538.27 152.78h0M539.4 152.7h0M540.53 152.61h0M541.66 152.53h0M542.79 152.45h0M543.91 152.37h0M545.04 152.28h0M546.17 152.16h0M547.3 152.04h0M548.43 151.93h0M549.55 151.83h0M550.68 151.73h0M551.81 151.63h0M552.94 151.54h0M554.07 151.44h0M555.19 151.34h0M556.32 151.24h0M557.45 151.14h0M558.58 151.04h0M559.71 150.92h0M560.83 150.81h0M561.96 150.69h0M563.09 150.58h0M564.22 150.46h0M565.35 150.35h0M566.47 150.23h0M567.6 150.12h0M568.73 150.01h0M569.86 149.9h0M570.99 149.8h0M572.11 149.69h0M573.24 149.59h0M574.37 149.48h0M575.5 149.37h0M576.63 149.27h0M577.75 149.16h0M578.88 149.08h0M580.01 149.01h0M581.14 148.93h0M582.27 148.85h0M583.39 148.78h0M584.52 148.7h0M585.65 148.62h0M586.78 148.55h0M587.91 148.47h0M589.03 148.36h0M590.16 148.26h0M591.29 148.15h0M592.42 148.05h0M593.55 147.94h0M594.67 147.84h0M595.8 147.73h0M596.93 147.63h0M598.06 147.52h0M599.19 147.43h0M600.31 147.33h0M601.44 147.23h0M602.57 147.14h0M603.7 147.04h0M604.83 146.95h0M605.95 146.85h0M607.08 146.76h0M608.21 146.65h0M609.34 146.52h0M610.47 146.39h0M611.59 145.94h0M612.72 145.32h0M613.85 144.85h0M614.98 144.56h0M616.11 144.41h0M617.23 144.25h0M618.36 144.1h0M619.49 143.97h0M620.62 143.83h0M621.75 143.69h0M622.87 143.55h0M624 143.42h0M625.13 143.21h0M626.26 142.97h0M627.39 142.73h0M628.51 142.45h0M629.64 141.91h0M630.77 141.38h0M631.9 140.55h0M633.03 139.63h0M634.15 138.72h0M635.28 137.98h0M636.41 137.25h0M637.54 136.4h0M638.67 135.4h0M639.79 134.41h0M640.92 133.45h0M642.05 132.49h0M643.18 131.49h0M644.31 130.49h0M645.43 129.48h0M646.56 128.62h0M647.69 127.9h0M648.82 126.94h0M649.95 125.91h0M651.07 123.57h0M652.2 120.25h0M653.33 115.92h0M654.46 113.62h0M655.59 112.09h0M656.71 110.57h0M657.84 107.67h0M658.97 106.48h0M660.1 105.98h0M661.23 105.3h0M662.35 104.28h0M663.48 103.77h0M664.61 102.41h0M665.74 101.22h0M666.87 100.02h0M667.99 98.33h0M669.12 96.45h0M670.25 95.6h0M671.38 94.08h0M672.51 92.89h0M673.63 90.84h0M674.76 88.81h0M675.89 86.6h0M677.02 84.55h0M678.15 83.37h0M679.27 70.78h0M680.4 64.49h0M681.53 37.98h0M682.66 35.09h0M683.79 32.79h0"/>
<path stroke="#2ca02c" d="M502.18 177.2h0M503.31 176.94h0M504.43 176.69h0M505.56 176.06h0M506.69 175.03h0M507.82 173.65h0M508.95 171.96h0M510.07 170.28h0M511.2 168.55h0M512.33 166.95h0M513.46 165.47h0M514.59 163.84h0M515.71 162.28h0M516.84 160.95h0M517.97 159.9h0M519.1 159.09h0M520.23 158.59h0M521.35 158.13h0M522.48 157.76h0M523.61 157.42h0M524.74 157.21h0M525.87 156.99h0M526.99 156.78h0M528.12 156.59h0M529.25 156.48h0M530.38 156.37h0M531.51 156.26h0M532.63 156.15h0M533.76 156.05h0M534.89 155.97h0M536.02 155.89h0M537.15 155.81h0M538.27 155.74h0M539.4 155.66h0M540.53 155.59h0M541.66 155.51h0M542.79 155.44h0M543.91 155.36h0M545.04 155.28h0M546.17 155.17h0M547.3 155.06h0M548.43 154.96h0M549.55 154.87h0M550.68 154.78h0M551.81 154.69h0M552.94 154.6h0M554.07 154.51h0M555.19 154.42h0M556.32 154.34h0M557.45 154.25h0M558.58 154.15h0M559.71 154.04h0M560.83 153.94h0M561.96 153.83h0M563.09 153.73h0M564.22 153.62h0M565.35 153.52h0M566.47 153.41h0M567.6 153.31h0M568.73 153.21h0M569.86 153.11h0M570.99 153.02h0M572.11 152.92h0M573.24 152.83h0M574.37 152.73h0M575.5 152.63h0M576.63 152.54h0M577.75 152.44h0M578.88 152.37h0M580.01 152.3h0M581.14 152.23h0M582.27 152.16h0M583.39 152.09h0M584.52 152.02h0M585.65 151.95h0M586.78 151.88h0M587.91 151.81h0M589.03 151.71h0M590.16 151.62h0M591.29 151.52h0M592.42 151.42h0M593.55 151.33h0M594.67 151.23h0M595.8 151.13h0M596.93 151.04h0M598.06 150.94h0M599.19 150.86h0M600.31 150.77h0M601.44 150.68h0M602.57 150.59h0M603.7 150.51h0M604.83 150.42h0M605.95 150.33h0M607.08 150.24h0M608.21 150.15h0M609.34 150.03h0M610.47 149.91h0M611.59 149.5h0M612.72 148.93h0M613.85 148.51h0M614.98 148.25h0M616.11 148.1h0M617.23 147.96h0M618.36 147.83h0M619.49 147.7h0M620.62 147.58h0M621.75 147.45h0M622.87 147.33h0M624 147.2h0M625.13 147.01h0M626.26 146.79h0M627.39 146.57h0M628.51 146.32h0M629.64 145.83h0M630.77 145.35h0M631.9 144.59h0M633.03 143.74h0M634.15 142.92h0M635.28 142.25h0M636.41 141.57h0M637.54 140.8h0M638.67 139.89h0M639.79 138.99h0M640.92 138.12h0M642.05 137.24h0M643.18 136.33h0M644.31 135.42h0M645.43 134.49h0M646.56 133.71h0M647.69 133.05h0M648.82 132.18h0M649.95 131.24h0M651.07 129.11h0M652.2 126.08h0M653.33 122.13h0M654.46 120.04h0M655.59 118.64h0M656.71 117.25h0M657.84 114.61h0M658.97 113.53h0M660.1 113.06h0M661.23 112.44h0M662.35 111.51h0M663.48 111.05h0M664.61 109.81h0M665.74 108.72h0M666.87 107.64h0M667.99 106.09h0M669.12 104.38h0M670.25 103.61h0M671.38 102.21h0M672.51 101.13h0M673.63 99.27h0M674.76 97.41h0M675.89 95.39h0M677.02 93.53h0M678.15 92.45h0M679.27 80.98h0M680.4 75.24h0M681.53 51.06h0M682.66 48.43h0M683.79 46.33h0"/>
<path stroke="#d62728" d="M502.18 178.08h0M503.31 177.85h0M504.43 177.62h0M505.56 177.05h0M506.69 176.12h0M507.82 174.87h0M508.95 173.35h0M510.07 171.83h0M511.2 170.27h0M512.33 168.82h0M513.46 167.48h0M514.59 166.02h0M515.71 164.61h0M516.84 163.41h0M517.97 162.45h0M519.1 161.72h0M520.23 161.27h0M521.35 160.85h0M522.48 160.52h0M523.61 160.22h0M524.74 160.02h0M525.87 159.83h0M526.99 159.64h0M528.12 159.47h0M529.25 159.37h0M530.38 159.26h0M531.51 159.16h0M532.63 159.06h0M533.76 158.97h0M534.89 158.9h0M536.02 158.83h0M537.15 158.76h0M538.27 158.69h0M539.4 158.63h0M540.53 158.56h0M541.66 158.49h0M542.79 158.42h0M543.91 158.36h0M545.04 158.28h0M546.17 158.18h0M547.3 158.09h0M548.43 157.99h0M549.55 157.91h0M550.68 157.83h0M551.81 157.75h0M552.94 157.67h0M554.07 157.59h0M555.19 157.51h0M556.32 157.43h0M557.45 157.35h0M558.58 157.26h0M559.71 157.16h0M560.83 157.07h0M561.96 156.97h0M563.09 156.88h0M564.22 156.79h0M565.35 156.69h0M566.47 156.6h0M567.6 156.5h0M568.73 156.41h0M569.86 156.33h0M570.99 156.24h0M572.11 156.15h0M573.24 156.06h0M574.37 155.98h0M575.5 155.89h0M576.63 155.8h0M577.75 155.72h0M578.88 155.65h0M580.01 155.59h0M581.14 155.53h0M582.27 155.46h0M583.39 155.4h0M584.52 155.34h0M585.65 155.27h0M586.78 155.21h0M587.91 155.15h0M589.03 155.06h0M590.16 154.97h0M591.29 154.89h0M592.42 154.8h0M593.55 154.71h0M594.67 154.62h0M595.8 154.54h0M596.93 154.45h0M598.06 154.37h0M599.19 154.29h0M600.31 154.21h0M601.44 154.13h0M602.57 154.05h0M603.7 153.97h0M604.83 153.89h0M605.95 153.81h0M607.08 153.73h0M608.21 153.65h0M609.34 153.54h0M610.47 153.44h0M611.59 153.06h0M612.72 152.55h0M613.85 152.16h0M614.98 151.93h0M616.11 151.8h0M617.23 151.67h0M618.36 151.55h0M619.49 151.44h0M620.62 151.32h0M621.75 151.21h0M622.87 151.1h0M624 150.98h0M625.13 150.81h0M626.26 150.62h0M627.39 150.42h0M628.51 150.19h0M629.64 149.75h0M630.77 149.31h0M631.9 148.63h0M633.03 147.86h0M634.15 147.11h0M635.28 146.51h0M636.41 145.9h0M637.54 145.2h0M638.67 144.38h0M639.79 143.57h0M640.92 142.78h0M642.05 141.98h0M643.18 141.16h0M644.31 140.34h0M645.43 139.5h0M646.56 138.8h0M647.69 138.21h0M648.82 137.42h0M649.95 136.57h0M651.07 134.64h0M652.2 131.91h0M653.33 128.34h0M654.46 126.45h0M655.59 125.19h0M656.71 123.93h0M657.84 121.55h0M658.97 120.57h0M660.1 120.15h0M661.23 119.59h0M662.35 118.75h0M663.48 118.33h0M664.61 117.21h0M665.74 116.23h0M666.87 115.25h0M667.99 113.85h0M669.12 112.31h0M670.25 111.61h0M671.38 110.35h0M672.51 109.37h0M673.63 107.69h0M674.76 106.01h0M675.89 104.19h0M677.02 102.51h0M678.15 101.53h0M679.27 91.17h0M680.4 85.99h0M681.53 64.15h0M682.66 61.77h0M683.79 59.88h0"/>
</g>
<line x1="520.7" y1="186.3" x2="520.7" y2="0.35" stroke="#000" stroke-width="1.34" stroke-dasharray="5 2.1" stroke-dashoffset="6.6"/>
<line x1="532.7" y1="186.3" x2="532.7" y2="0.35" stroke="#1f77b4" stroke-width="1.34" stroke-dasharray="5 2.1" stroke-dashoffset="6.6"/>
<line x1="563.4" y1="186.3" x2="563.4" y2="0.35" stroke="#ff7f0e" stroke-width="1.34" stroke-dasharray="5 2.1" stroke-dashoffset="6.6"/>
<line x1="607.6" y1="186.3" x2="607.6" y2="0.35" stroke="#2ca02c" stroke-width="1.34" stroke-dasharray="5 2.1" stroke-dashoffset="6.6"/>
<line x1="626.6" y1="186.3" x2="626.6" y2="0.35" stroke="#d62728" stroke-width="1.34" stroke-dasharray="5 2.1" stroke-dashoffset="6.6"/>
</g>
<rect x="502.05" y="0.35" width="182.3" height="185.95" fill="none" stroke="#000" stroke-width="0.71"/>
<path d="M498.92 186.3H502.05M498.92 150.52H502.05M498.92 114.74H502.05M498.92 78.96H502.05M498.92 43.18H502.05M498.92 7.4H502.05M557.45 186.3V189.43M613.85 186.3V189.43M670.25 186.3V189.43" stroke="#000" stroke-width="0.71" fill="none"/>
<rect x="506.5" y="4.8" width="79.6" height="68.4" rx="2" fill="#fff" stroke="#ccc" stroke-width="0.71"/>
<g stroke-linecap="round" stroke-width="2.9"><path stroke="#000" d="M519.5 12.9h0"/><path stroke="#1f77b4" d="M519.5 26h0"/><path stroke="#ff7f0e" d="M519.5 39.1h0"/><path stroke="#2ca02c" d="M519.5 52.2h0"/><path stroke="#d62728" d="M519.5 65.3h0"/></g>
<g fill="#000" stroke="#000" stroke-width="0.1">
<text transform="translate(22.95 189.55) rotate(0.05)" font-family="Liberation Sans" font-size="9.3">0</text>
<text transform="translate(22.13 153.77) scale(1.0250 1.0000) rotate(0.05)" font-family="Liberation Sans" font-size="9.3">1</text>
<text transform="translate(22.67 117.99) scale(1.0588 1.0000) rotate(0.05)" font-family="Liberation Sans" font-size="9.3">2</text>
<text transform="translate(22.67 82.21) scale(1.0588 1.0000) rotate(0.05)" font-family="Liberation Sans" font-size="9.3">3</text>
<text transform="translate(22.23 46.43) scale(1.0947 1.0000) rotate(0.05)" font-family="Liberation Sans" font-size="9.3">4</text>
<text transform="translate(22.67 10.65) scale(1.0588 1.0000) rotate(0.05)" font-family="Liberation Sans" font-size="9.3">5</text>
<text transform="translate(83.75 199.45) scale(1.0947 1.0154) rotate(0.05)" font-family="Liberation Sans" font-size="9.3">50</text>
<text transform="translate(137.37 199.45) scale(1.1103 1.0154) rotate(0.05)" font-family="Liberation Sans" font-size="9.3">100</text>
<text transform="translate(193.77 199.45) scale(1.1103 1.0154) rotate(0.05)" font-family="Liberation Sans" font-size="9.3">150</text>
<text transform="translate(103.03 215.60) scale(1.0726 0.9778) rotate(0.05)" font-family="Liberation Sans" font-size="9.3">Pair index</text>
<text transform="translate(113.05 237.86) scale(1.1324 1.0968) rotate(0.05)" font-family="Liberation Serif" font-size="17.5" stroke="#fff" stroke-width="0.2">(a)</text>
<text transform="translate(256.90 189.55) rotate(0.05)" font-family="Liberation Sans" font-size="9.3">0</text>
<text transform="translate(256.08 153.77) scale(1.0250 1.0000) rotate(0.05)" font-family="Liberation Sans" font-size="9.3">1</text>
<text transform="translate(256.62 117.99) scale(1.0588 1.0000) rotate(0.05)" font-family="Liberation Sans" font-size="9.3">2</text>
<text transform="translate(256.62 82.21) scale(1.0588 1.0000) rotate(0.05)" font-family="Liberation Sans" font-size="9.3">3</text>
<text transform="translate(256.18 46.43) scale(1.0947 1.0000) rotate(0.05)" font-family="Liberation Sans" font-size="9.3">4</text>
<text transform="translate(256.62 10.65) scale(1.0588 1.0000) rotate(0.05)" font-family="Liberation Sans" font-size="9.3">5</text>
<text transform="translate(317.70 199.45) scale(1.0947 1.0154) rotate(0.05)" font-family="Liberation Sans" font-size="9.3">50</text>
<text transform="translate(371.32 199.45) scale(1.1103 1.0154) rotate(0.05)" font-family="Liberation Sans" font-size="9.3">100</text>
<text transform="translate(427.72 199.45) scale(1.1103 1.0154) rotate(0.05)" font-family="Liberation Sans" font-size="9.3">150</text>
<text transform="translate(336.98 215.60) scale(1.0726 0.9778) rotate(0.05)" font-family="Liberation Sans" font-size="9.3">Pair index</text>
<text transform="translate(347.00 237.86) scale(1.0720 1.0968) rotate(0.05)" font-family="Liberation Serif" font-size="17.5" stroke="#fff" stroke-width="0.2">(b)</text>
<text transform="translate(490.60 189.55) rotate(0.05)" font-family="Liberation Sans" font-size="9.3">0</text>
<text transform="translate(489.78 153.77) scale(1.0250 1.0000) rotate(0.05)" font-family="Liberation Sans" font-size="9.3">1</text>
<text transform="translate(490.32 117.99) scale(1.0588 1.0000) rotate(0.05)" font-family="Liberation Sans" font-size="9.3">2</text>
<text transform="translate(490.32 82.21) scale(1.0588 1.0000) rotate(0.05)" font-family="Liberation Sans" font-size="9.3">3</text>
<text transform="translate(489.88 46.43) scale(1.0947 1.0000) rotate(0.05)" font-family="Liberation Sans" font-size="9.3">4</text>
<text transform="translate(490.32 10.65) scale(1.0588 1.0000) rotate(0.05)" font-family="Liberation Sans" font-size="9.3">5</text>
<text transform="translate(551.70 199.45) scale(1.0947 1.0154) rotate(0.05)" font-family="Liberation Sans" font-size="9.3">50</text>
<text transform="translate(605.32 199.45) scale(1.1103 1.0154) rotate(0.05)" font-family="Liberation Sans" font-size="9.3">100</text>
<text transform="translate(661.72 199.45) scale(1.1103 1.0154) rotate(0.05)" font-family="Liberation Sans" font-size="9.3">150</text>
<text transform="translate(570.68 215.60) scale(1.0726 0.9778) rotate(0.05)" font-family="Liberation Sans" font-size="9.3">Pair index</text>
<text transform="translate(580.75 237.86) scale(1.1324 1.0968) rotate(0.05)" font-family="Liberation Serif" font-size="17.5" stroke="#fff" stroke-width="0.2">(c)</text>
<text transform="translate(67.50 15.20) scale(1.0941 1.0000) rotate(0.05)" font-family="Liberation Sans" font-size="9.3">no change</text>
<text transform="translate(67.33 28.00) scale(1.0957 1.0000) rotate(0.05)" font-family="Liberation Sans" font-style="italic" font-size="9.3">σ</text>
<text transform="translate(76.20 28.00) scale(1.4000 1.0000) rotate(0.05)" font-family="Liberation Sans" font-size="9.3">=</text>
<text transform="translate(86.53 28.00) scale(1.0776 1.0000) rotate(0.05)" font-family="Liberation Sans" font-size="9.3">0.1</text>
<text transform="translate(67.33 41.05) scale(1.0957 1.0000) rotate(0.05)" font-family="Liberation Sans" font-style="italic" font-size="9.3">σ</text>
<text transform="translate(76.20 41.05) scale(1.4000 1.0000) rotate(0.05)" font-family="Liberation Sans" font-size="9.3">=</text>
<text transform="translate(86.53 41.05) scale(1.0776 1.0000) rotate(0.05)" font-family="Liberation Sans" font-size="9.3">0.2</text>
<text transform="translate(67.33 54.10) scale(1.0957 1.0000) rotate(0.05)" font-family="Liberation Sans" font-style="italic" font-size="9.3">σ</text>
<text transform="translate(76.20 54.10) scale(1.4000 1.0000) rotate(0.05)" font-family="Liberation Sans" font-size="9.3">=</text>
<text transform="translate(86.53 54.10) scale(1.0776 1.0000) rotate(0.05)" font-family="Liberation Sans" font-size="9.3">0.3</text>
<text transform="translate(67.33 67.15) scale(1.0957 1.0000) rotate(0.05)" font-family="Liberation Sans" font-style="italic" font-size="9.3">σ</text>
<text transform="translate(76.20 67.15) scale(1.4000 1.0000) rotate(0.05)" font-family="Liberation Sans" font-size="9.3">=</text>
<text transform="translate(86.54 67.15) scale(1.0560 1.0000) rotate(0.05)" font-family="Liberation Sans" font-size="9.3">0.4</text>
<text transform="translate(535.45 15.20) scale(1.0941 1.0000) rotate(0.05)" font-family="Liberation Sans" font-size="9.3">no change</text>
<text transform="translate(535.06 28.40) scale(1.0851 1.0000) rotate(0.05)" font-family="Liberation Sans" font-size="9.3">-7.5%</text>
<text transform="translate(535.05 41.50) scale(1.0922 1.0000) rotate(0.05)" font-family="Liberation Sans" font-size="9.3">-15.0%</text>
<text transform="translate(535.05 54.60) scale(1.0922 1.0000) rotate(0.05)" font-family="Liberation Sans" font-size="9.3">-22.5%</text>
<text transform="translate(535.05 67.70) scale(1.0922 1.0000) rotate(0.05)" font-family="Liberation Sans" font-size="9.3">-30.0%</text>
<text transform="translate(300.95 15.20) scale(1.0965 1.0000) rotate(0.05)" font-family="Liberation Sans" font-size="9.3">no change</text>
<text transform="translate(301.44 28.40) scale(0.9714 1.0514) rotate(0.05)" font-family="Liberation Sans" font-style="italic" font-size="9.3">β</text>
<text transform="translate(306.98 29.90) scale(1.3000 0.9474) rotate(0.05)" font-family="Liberation Sans" font-size="6.6">2</text>
<text transform="translate(314.42 28.50) scale(1.3556 1.0000) rotate(0.05)" font-family="Liberation Sans" font-size="9.3">=</text>
<text transform="translate(324.82 28.50) scale(1.0353 1.0000) rotate(0.05)" font-family="Liberation Sans" font-size="9.3">1.75</text>
<text transform="translate(343.95 28.40) scale(1.0095 1.0514) rotate(0.05)" font-family="Liberation Sans" font-style="italic" font-size="9.3">β</text>
<text transform="translate(350.15 29.90) scale(0.9000 1.0000) rotate(0.05)" font-family="Liberation Sans" font-size="6.6">1</text>
<text transform="translate(301.44 42.83) scale(0.9714 1.0514) rotate(0.05)" font-family="Liberation Sans" font-style="italic" font-size="9.3">β</text>
<text transform="translate(306.98 44.33) scale(1.3000 0.9474) rotate(0.05)" font-family="Liberation Sans" font-size="6.6">2</text>
<text transform="translate(314.42 42.93) scale(1.3556 1.0000) rotate(0.05)" font-family="Liberation Sans" font-size="9.3">=</text>
<text transform="translate(324.80 42.93) scale(1.0723 1.0000) rotate(0.05)" font-family="Liberation Sans" font-size="9.3">1.5</text>
<text transform="translate(338.95 42.83) scale(1.0095 1.0514) rotate(0.05)" font-family="Liberation Sans" font-style="italic" font-size="9.3">β</text>
<text transform="translate(345.15 44.33) scale(0.9000 1.0000) rotate(0.05)" font-family="Liberation Sans" font-size="6.6">1</text>
<text transform="translate(301.44 57.26) scale(0.9714 1.0514) rotate(0.05)" font-family="Liberation Sans" font-style="italic" font-size="9.3">β</text>
<text transform="translate(306.98 58.76) scale(1.3000 0.9474) rotate(0.05)" font-family="Liberation Sans" font-size="6.6">2</text>
<text transform="translate(314.42 57.36) scale(1.3556 1.0000) rotate(0.05)" font-family="Liberation Sans" font-size="9.3">=</text>
<text transform="translate(324.82 57.36) scale(1.0353 1.0000) rotate(0.05)" font-family="Liberation Sans" font-size="9.3">1.25</text>
<text transform="translate(343.95 57.26) scale(1.0095 1.0514) rotate(0.05)" font-family="Liberation Sans" font-style="italic" font-size="9.3">β</text>
<text transform="translate(350.15 58.76) scale(0.9000 1.0000) rotate(0.05)" font-family="Liberation Sans" font-size="6.6">1</text>
<text transform="translate(301.44 71.69) scale(0.9714 1.0514) rotate(0.05)" font-family="Liberation Sans" font-style="italic" font-size="9.3">β</text>
<text transform="translate(306.98 73.19) scale(1.3000 0.9474) rotate(0.05)" font-family="Liberation Sans" font-size="6.6">2</text>
<text transform="translate(314.42 71.79) scale(1.3556 1.0000) rotate(0.05)" font-family="Liberation Sans" font-size="9.3">=</text>
<text transform="translate(324.80 71.79) scale(1.0723 1.0000) rotate(0.05)" font-family="Liberation Sans" font-size="9.3">1.0</text>
<text transform="translate(338.95 71.69) scale(1.0095 1.0514) rotate(0.05)" font-family="Liberation Sans" font-style="italic" font-size="9.3">β</text>
<text transform="translate(345.15 73.19) scale(0.9000 1.0000) rotate(0.05)" font-family="Liberation Sans" font-size="6.6">1</text>
<g transform="translate(9.8 154.1) rotate(-90)">
<text transform="translate(-0.28 0.00) scale(1.1200 1.0154) rotate(0.05)" font-family="Liberation Sans" font-style="italic" font-size="9.3">R</text>
<text transform="translate(7.91 2.20) scale(1.1692 1.0737) rotate(0.05)" font-family="Liberation Sans" font-size="6.6">0</text>
<text transform="translate(9.93 -4.78) scale(0.8400 1.0560) rotate(0.05)" font-family="Liberation Sans" font-style="italic" font-size="6.6">j</text>
<text transform="translate(15.30 -0.25) scale(1.1337 0.9857) rotate(0.05)" font-family="Liberation Sans" font-size="9.3">value after intervention</text>
</g>
<g transform="translate(243.75 154.1) rotate(-90)">
<text transform="translate(-0.28 0.00) scale(1.1200 1.0154) rotate(0.05)" font-family="Liberation Sans" font-style="italic" font-size="9.3">R</text>
<text transform="translate(7.91 2.20) scale(1.1692 1.0737) rotate(0.05)" font-family="Liberation Sans" font-size="6.6">0</text>
<text transform="translate(9.93 -4.78) scale(0.8400 1.0560) rotate(0.05)" font-family="Liberation Sans" font-style="italic" font-size="6.6">j</text>
<text transform="translate(15.30 -0.25) scale(1.1337 0.9857) rotate(0.05)" font-family="Liberation Sans" font-size="9.3">value after intervention</text>
</g>
<g transform="translate(477.45 154.1) rotate(-90)">
<text transform="translate(-0.28 0.00) scale(1.1200 1.0154) rotate(0.05)" font-family="Liberation Sans" font-style="italic" font-size="9.3">R</text>
<text transform="translate(7.91 2.20) scale(1.1692 1.0737) rotate(0.05)" font-family="Liberation Sans" font-size="6.6">0</text>
<text transform="translate(9.93 -4.78) scale(0.8400 1.0560) rotate(0.05)" font-family="Liberation Sans" font-style="italic" font-size="6.6">j</text>
<text transform="translate(15.30 -0.25) scale(1.1337 0.9857) rotate(0.05)" font-family="Liberation Sans" font-size="9.3">value after intervention</text>
</g>
</g>
</svg>
</body></html>
